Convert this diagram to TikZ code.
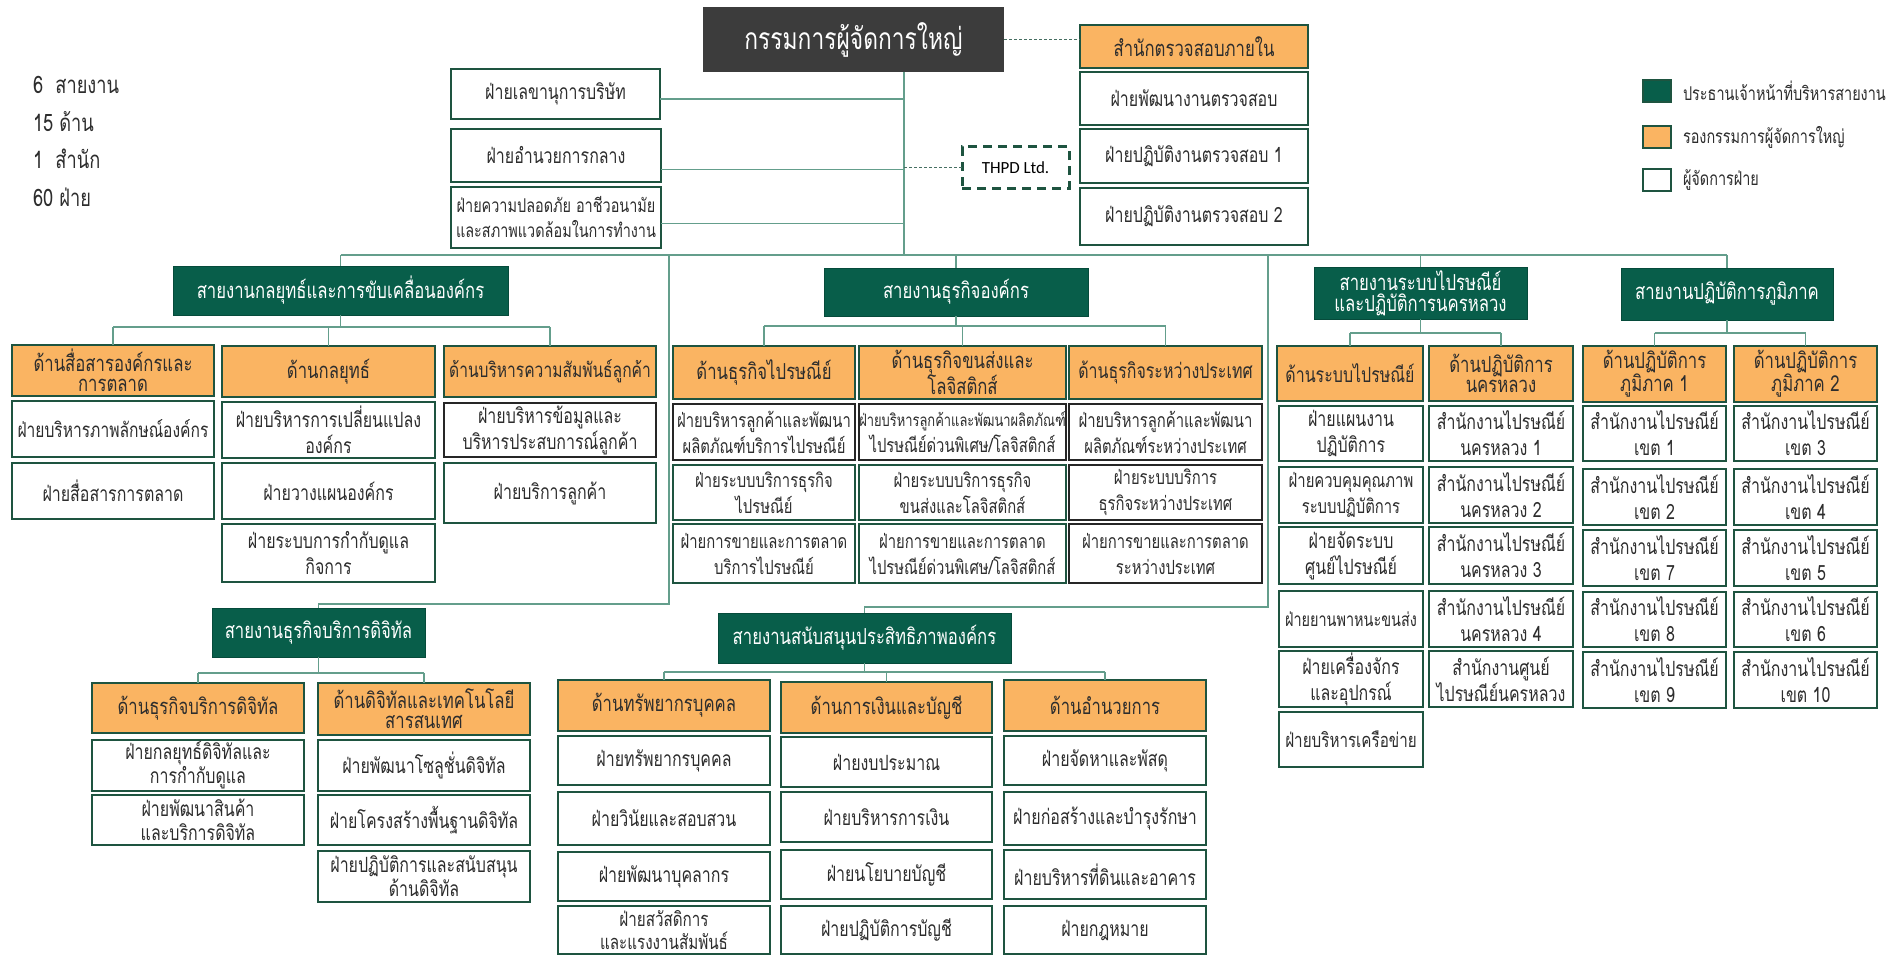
\documentclass[tikz,border=0pt]{standalone}
\usepackage{fontspec}
\setmainfont{Loma}[Script=Thai, FakeStretch=0.76]
\newfontfamily\latinf{Carlito}
\usetikzlibrary{calc}
\definecolor{dkgreen}{RGB}{8,94,74}
\definecolor{bordg}{RGB}{30,84,64}
\definecolor{orng}{RGB}{250,180,98}
\definecolor{linec}{RGB}{100,158,140}
\definecolor{txtc}{RGB}{45,45,45}
\definecolor{ceoc}{RGB}{60,60,60}
\newcommand\BX[7]{\node[#1, anchor=north west, minimum width={(#5-#3)*1pt}, minimum height={(#6-#4)*1pt}] (#2) at (#3,#4) {#7};}
\newcommand\subtree[4]{%
  \draw[conn] (#1.south) -- (#1.south |- 0,#2);
  \draw[conn] (#3.north |- 0,#2) -- (#4.north |- 0,#2);}
\tikzset{
  base/.style={inner sep=0pt, outer sep=0pt, align=center, text=txtc},
  wbox/.style={base, draw=bordg, fill=white, line width=2pt, font=\fontsize{21}{26}\selectfont},
  bbox/.style={wbox, font=\fontsize{19.5}{26}\selectfont},
  kbox/.style={bbox, draw=black!85},
  obox/.style={base, draw=bordg, fill=orng, line width=2.2pt, font=\fontsize{22}{20}\selectfont},
  gbox/.style={base, draw=dkgreen!80!black, fill=dkgreen, line width=1pt, text=white, font=\fontsize{22}{21}\selectfont},
  ceobox/.style={base, fill=ceoc, text=white, font=\fontsize{30}{32}\selectfont},
  conn/.style={draw=linec, line width=1.5pt},
  dconn/.style={draw=linec!70!black, line width=1pt, dash pattern=on 3pt off 2pt},
  lgsq/.style={base, minimum width=28pt, minimum height=22pt, line width=2pt, draw=bordg},
  lgt/.style={base, anchor=west, font=\fontsize{19}{20}\selectfont},
  lt/.style={base, anchor=west, font=\fontsize{24}{24}\selectfont}
}
\begin{document}
\begin{tikzpicture}[x=1pt,y=-1pt]
\useasboundingbox (0,0) rectangle (1903,955);
\fill[white] (0,0) rectangle (1903,955);

% left counts
\node[lt] (n1) at (33,85) {6\ \ สายงาน};
\node[lt] (n2) at (33,122) {15 ด้าน};
\node[lt] (n3) at (33,159) {1\ \ สำนัก};
\node[lt] (n4) at (33,197) {60 ฝ่าย};

% legend
\node[lgsq, fill=dkgreen] (lg1) at (1657,91) {};
\node[lgsq, fill=orng] (lg2) at (1657,137) {};
\node[lgsq, fill=white] (lg3) at (1657,180) {};
\node[lgt] (lt1) at (1683,91) {ประธานเจ้าหน้าที่บริหารสายงาน};
\node[lgt] (lt2) at (1683,137) {รองกรรมการผู้จัดการใหญ่};
\node[lgt] (lt3) at (1683,180) {ผู้จัดการฝ่าย};

% top
\BX{ceobox}{ceo}{703}{7}{1004}{72}{กรรมการผู้จัดการใหญ่}
\BX{wbox}{sec}{451}{69}{660}{119}{ฝ่ายเลขานุการบริษัท}
\BX{wbox}{adm}{451}{129}{661}{182}{ฝ่ายอำนวยการกลาง}
\BX{wbox, font=\fontsize{19}{25}\selectfont}{saf}{451}{187}{661}{248}{ฝ่ายความปลอดภัย อาชีวอนามัย\\และสภาพแวดล้อมในการทำงาน}
\BX{obox, font=\fontsize{22}{22}\selectfont}{aud}{1080}{25}{1308}{68}{สำนักตรวจสอบภายใน}
\BX{wbox}{au1}{1080}{72}{1308}{125}{ฝ่ายพัฒนางานตรวจสอบ}
\BX{wbox}{au2}{1080}{129}{1308}{183}{ฝ่ายปฏิบัติงานตรวจสอบ 1}
\BX{wbox}{au3}{1080}{188}{1308}{245}{ฝ่ายปฏิบัติงานตรวจสอบ 2}
\BX{base, draw=bordg, line width=3pt, dash pattern=on 9pt off 6pt, font=\latinf\fontsize{17}{20}\selectfont, text=black}{thpd}{962}{147}{1069}{188}{THPD Ltd.}

\coordinate (tr) at (904,255);
\coordinate (bus) at (0,255);
\draw[conn] (tr |- ceo.south) -- (tr);
\draw[conn] ([yshift=-5pt]sec.east) -- ([yshift=-5pt]sec.east -| tr);
\draw[conn] ([yshift=-14pt]adm.east) -- ([yshift=-14pt]adm.east -| tr);
\draw[conn] ([yshift=-6pt]saf.east) -- ([yshift=-6pt]saf.east -| tr);
\draw[dconn] (thpd.west -| tr) -- (thpd.west);
\draw[dconn] (ceo.east) -- (ceo.east -| aud.west);

% group 1 strategy
\BX{gbox}{g1}{173}{266}{508}{315}{สายงานกลยุทธ์และการขับเคลื่อนองค์กร}
\BX{obox}{d11}{12}{345}{214}{396}{ด้านสื่อสารองค์กรและ\\การตลาด}
\BX{obox}{d12}{222}{346}{435}{397}{ด้านกลยุทธ์}
\BX{obox, font=\fontsize{20.5}{20}\selectfont}{d13}{444}{346}{656}{397}{ด้านบริหารความสัมพันธ์ลูกค้า}
\BX{wbox, font=\fontsize{20.5}{26}\selectfont}{f111}{12}{401}{214}{457}{ฝ่ายบริหารภาพลักษณ์องค์กร}
\BX{wbox}{f112}{12}{463}{214}{519}{ฝ่ายสื่อสารการตลาด}
\BX{wbox}{f121}{222}{402}{435}{458}{ฝ่ายบริหารการเปลี่ยนแปลง\\องค์กร}
\BX{wbox}{f122}{222}{463}{435}{519}{ฝ่ายวางแผนองค์กร}
\BX{wbox}{f123}{222}{524}{435}{582}{ฝ่ายระบบการกำกับดูแล\\กิจการ}
\BX{wbox, draw=black!85}{f131}{444}{403}{656}{457}{ฝ่ายบริหารข้อมูลและ\\บริหารประสบการณ์ลูกค้า}
\BX{wbox}{f132}{444}{463}{656}{523}{ฝ่ายบริการลูกค้า}

% group 2 business
\BX{gbox}{g2}{824}{268}{1088}{316}{สายงานธุรกิจองค์กร}
\BX{obox}{d21}{673}{346}{855}{399}{ด้านธุรกิจไปรษณีย์}
\BX{obox}{d22}{859}{346}{1066}{399}{ด้านธุรกิจขนส่งและ\\โลจิสติกส์}
\BX{obox, font=\fontsize{21}{20}\selectfont}{d23}{1069}{346}{1262}{399}{ด้านธุรกิจระหว่างประเทศ}
\BX{kbox}{f211}{673}{404}{855}{460}{ฝ่ายบริหารลูกค้าและพัฒนา\\ผลิตภัณฑ์บริการไปรษณีย์}
\BX{bbox}{f212}{673}{465}{855}{520}{ฝ่ายระบบบริการธุรกิจ\\ไปรษณีย์}
\BX{bbox}{f213}{673}{524}{855}{583}{ฝ่ายการขายและการตลาด\\บริการไปรษณีย์}
\BX{kbox}{f221}{859}{404}{1066}{460}{{\fontsize{17}{26}\selectfont ฝ่ายบริหารลูกค้าและพัฒนาผลิตภัณฑ์}\\ไปรษณีย์ด่วนพิเศษ/โลจิสติกส์}
\BX{bbox}{f222}{859}{465}{1066}{520}{ฝ่ายระบบบริการธุรกิจ\\ขนส่งและโลจิสติกส์}
\BX{bbox}{f223}{859}{524}{1066}{583}{ฝ่ายการขายและการตลาด\\ไปรษณีย์ด่วนพิเศษ/โลจิสติกส์}
\BX{kbox}{f231}{1069}{404}{1262}{460}{ฝ่ายบริหารลูกค้าและพัฒนา\\ผลิตภัณฑ์ระหว่างประเทศ}
\BX{kbox}{f232}{1069}{465}{1262}{520}{ฝ่ายระบบบริการ\\ธุรกิจระหว่างประเทศ}
\BX{kbox}{f233}{1069}{524}{1262}{583}{ฝ่ายการขายและการตลาด\\ระหว่างประเทศ}

% group 3 postal
\BX{gbox}{g3}{1314}{267}{1527}{319}{สายงานระบบไปรษณีย์\\และปฏิบัติการนครหลวง}
\BX{obox, font=\fontsize{21}{20}\selectfont}{d31}{1277}{346}{1423}{401}{ด้านระบบไปรษณีย์}
\BX{obox}{d32}{1429}{346}{1573}{401}{ด้านปฏิบัติการ\\นครหลวง}
\BX{wbox}{f311}{1279}{406}{1423}{461}{ฝ่ายแผนงาน\\ปฏิบัติการ}
\BX{bbox}{f312}{1279}{467}{1423}{523}{ฝ่ายควบคุมคุณภาพ\\ระบบปฏิบัติการ}
\BX{wbox}{f313}{1279}{527}{1423}{584}{ฝ่ายจัดระบบ\\ศูนย์ไปรษณีย์}
\BX{wbox, font=\fontsize{19}{26}\selectfont}{f314}{1279}{591}{1423}{647}{ฝ่ายยานพาหนะขนส่ง}
\BX{wbox}{f315}{1279}{651}{1423}{707}{ฝ่ายเครื่องจักร\\และอุปกรณ์}
\BX{wbox, font=\fontsize{20}{26}\selectfont}{f316}{1279}{712}{1423}{767}{ฝ่ายบริหารเครือข่าย}
\BX{wbox}{f321}{1429}{406}{1573}{461}{สำนักงานไปรษณีย์\\นครหลวง 1}
\BX{wbox}{f322}{1429}{467}{1573}{523}{สำนักงานไปรษณีย์\\นครหลวง 2}
\BX{wbox}{f323}{1429}{527}{1573}{584}{สำนักงานไปรษณีย์\\นครหลวง 3}
\BX{wbox}{f324}{1429}{591}{1573}{647}{สำนักงานไปรษณีย์\\นครหลวง 4}
\BX{wbox}{f325}{1429}{651}{1573}{707}{สำนักงานศูนย์\\ไปรษณีย์นครหลวง}

% group 4 regional
\BX{gbox}{g4}{1621}{268}{1833}{320}{สายงานปฏิบัติการภูมิภาค}
\BX{obox}{d41}{1583}{346}{1726}{402}{ด้านปฏิบัติการ\\ภูมิภาค 1}
\BX{obox}{d42}{1734}{346}{1877}{402}{ด้านปฏิบัติการ\\ภูมิภาค 2}
\BX{wbox}{f411}{1583}{406}{1726}{461}{สำนักงานไปรษณีย์\\เขต 1}
\BX{wbox}{f412}{1583}{469}{1726}{525}{สำนักงานไปรษณีย์\\เขต 2}
\BX{wbox}{f413}{1583}{530}{1726}{586}{สำนักงานไปรษณีย์\\เขต 7}
\BX{wbox}{f414}{1583}{592}{1726}{647}{สำนักงานไปรษณีย์\\เขต 8}
\BX{wbox}{f415}{1583}{652}{1726}{708}{สำนักงานไปรษณีย์\\เขต 9}
\BX{wbox}{f421}{1734}{406}{1877}{461}{สำนักงานไปรษณีย์\\เขต 3}
\BX{wbox}{f422}{1734}{469}{1877}{525}{สำนักงานไปรษณีย์\\เขต 4}
\BX{wbox}{f423}{1734}{530}{1877}{586}{สำนักงานไปรษณีย์\\เขต 5}
\BX{wbox}{f424}{1734}{592}{1877}{647}{สำนักงานไปรษณีย์\\เขต 6}
\BX{wbox}{f425}{1734}{652}{1877}{708}{สำนักงานไปรษณีย์\\เขต 10}

% group 5 digital
\BX{gbox}{g5}{212}{608}{425}{657}{สายงานธุรกิจบริการดิจิทัล}
\BX{obox}{d51}{92}{683}{304}{733}{ด้านธุรกิจบริการดิจิทัล}
\BX{obox}{d52}{318}{683}{530}{735}{ด้านดิจิทัลและเทคโนโลยี\\สารสนเทศ}
\BX{wbox, font=\fontsize{21}{24}\selectfont}{f511}{92}{740}{304}{791}{ฝ่ายกลยุทธ์ดิจิทัลและ\\การกำกับดูแล}
\BX{wbox, font=\fontsize{21}{24}\selectfont}{f512}{92}{795}{304}{845}{ฝ่ายพัฒนาสินค้า\\และบริการดิจิทัล}
\BX{wbox}{f521}{318}{740}{530}{791}{ฝ่ายพัฒนาโซลูชั่นดิจิทัล}
\BX{wbox}{f522}{318}{795}{530}{845}{ฝ่ายโครงสร้างพื้นฐานดิจิทัล}
\BX{wbox, font=\fontsize{21}{24}\selectfont}{f523}{318}{851}{530}{902}{ฝ่ายปฏิบัติการและสนับสนุน\\ด้านดิจิทัล}

% group 6 support
\BX{gbox}{g6}{718}{613}{1011}{663}{สายงานสนับสนุนประสิทธิภาพองค์กร}
\BX{obox}{d61}{558}{680}{770}{731}{ด้านทรัพยากรบุคคล}
\BX{obox}{d62}{781}{682}{992}{733}{ด้านการเงินและบัญชี}
\BX{obox}{d63}{1004}{680}{1206}{731}{ด้านอำนวยการ}
\BX{wbox}{f611}{558}{736}{770}{785}{ฝ่ายทรัพยากรบุคคล}
\BX{wbox}{f612}{558}{792}{770}{845}{ฝ่ายวินัยและสอบสวน}
\BX{wbox}{f613}{558}{852}{770}{901}{ฝ่ายพัฒนาบุคลากร}
\BX{wbox, font=\fontsize{20}{23}\selectfont}{f614}{558}{906}{770}{954}{ฝ่ายสวัสดิการ\\และแรงงานสัมพันธ์}
\BX{wbox}{f621}{781}{737}{992}{787}{ฝ่ายงบประมาณ}
\BX{wbox}{f622}{781}{792}{992}{842}{ฝ่ายบริหารการเงิน}
\BX{wbox}{f623}{781}{850}{992}{899}{ฝ่ายนโยบายบัญชี}
\BX{wbox}{f624}{781}{906}{992}{954}{ฝ่ายปฏิบัติการบัญชี}
\BX{wbox}{f631}{1004}{736}{1206}{785}{ฝ่ายจัดหาและพัสดุ}
\BX{wbox}{f632}{1004}{792}{1206}{845}{ฝ่ายก่อสร้างและบำรุงรักษา}
\BX{wbox}{f633}{1004}{850}{1206}{899}{ฝ่ายบริหารที่ดินและอาคาร}
\BX{wbox}{f634}{1004}{906}{1206}{954}{ฝ่ายกฎหมาย}

% main bus
\draw[conn] (g1.north |- bus) -- (g4.north |- bus);
\foreach \g in {g1,g2,g3,g4} \draw[conn] (\g.north |- bus) -- (\g.north);
\coordinate (L1) at (669,255); \coordinate (L2) at (669,604);
\coordinate (R1) at (1268,255); \coordinate (R2) at (1268,607);
\draw[conn] (L1) -- (L2) -| (g5.north);
\draw[conn] (R1) -- (R2) -| (g6.north);

% sub-buses
\subtree{g1}{327}{d11}{d13}
\foreach \c in {d11,d12,d13} \draw[conn] (\c.north |- 0,327) -- (\c.north);
\subtree{g2}{326}{d21}{d23}
\foreach \c in {d21,d22,d23} \draw[conn] (\c.north |- 0,326) -- (\c.north);
\subtree{g3}{333}{d31}{d32}
\foreach \c in {d31,d32} \draw[conn] (\c.north |- 0,333) -- (\c.north);
\subtree{g4}{333}{d41}{d42}
\foreach \c in {d41,d42} \draw[conn] (\c.north |- 0,333) -- (\c.north);
\subtree{g5}{673}{d51}{d52}
\foreach \c in {d51,d52} \draw[conn] (\c.north |- 0,673) -- (\c.north);
\subtree{g6}{672}{d61}{d63}
\foreach \c in {d61,d62,d63} \draw[conn] (\c.north |- 0,672) -- (\c.north);
\end{tikzpicture}
\end{document}
